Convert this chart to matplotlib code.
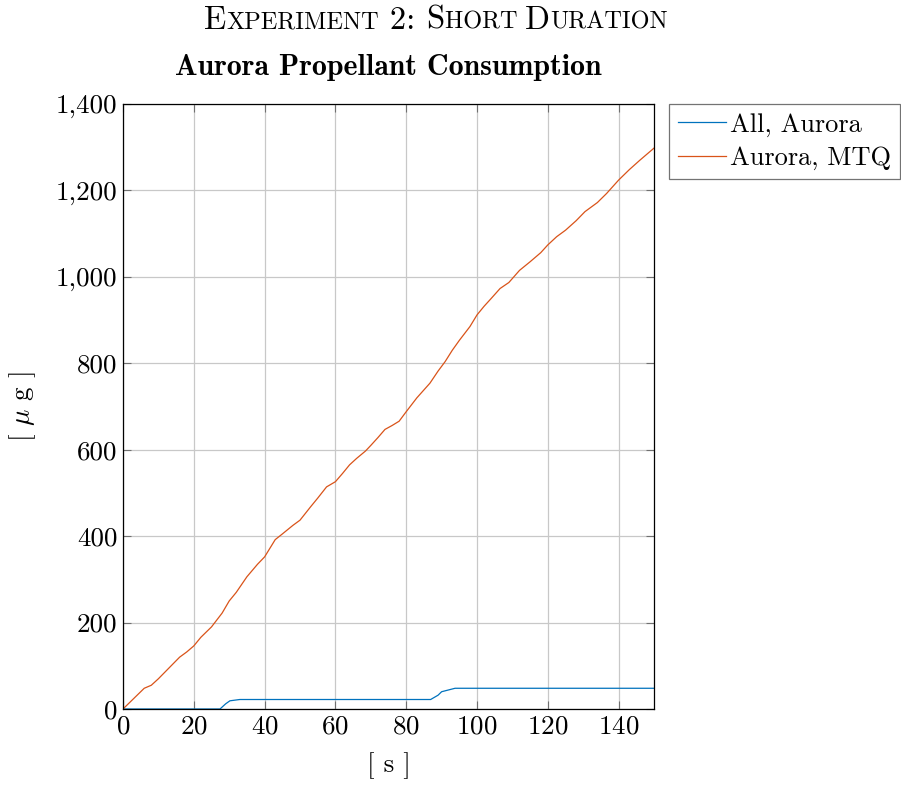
import matplotlib
matplotlib.use("Agg")
import matplotlib.pyplot as plt
from matplotlib.ticker import FuncFormatter, MultipleLocator
from matplotlib.offsetbox import TextArea, HPacker, AnchoredOffsetbox

plt.rcParams["font.family"] = ["cmr10", "DejaVu Serif"]
plt.rcParams["mathtext.fontset"] = "cm"
plt.rcParams["axes.formatter.use_mathtext"] = True
plt.rcParams["axes.unicode_minus"] = False

time_all = [0, 27.4, 29, 30.2, 33, 86.9, 89, 90, 91.9, 93.8, 150]
prop_all = [0, 0, 12, 19, 22, 22, 32, 40, 44, 48, 48]

time_mtq = [0, 3, 6, 8, 10, 13, 16, 18, 20, 22, 25, 28, 30, 32, 35, 38, 40,
            43, 45, 48, 50, 53, 55, 57.5, 60, 62, 64, 66, 68.5, 70, 72, 74,
            76, 78, 80, 83, 86.7, 89, 91, 93, 95, 98, 100, 102, 104, 106.5,
            109, 112, 115, 118, 120, 122.5, 125, 128, 130.5, 132, 134, 136.6,
            140, 143, 146, 150]
prop_mtq = [0, 24, 48, 55, 70, 95, 120, 132, 146, 166, 190, 222, 250, 270,
            306, 335, 352, 392, 405, 425, 437, 468, 488, 514, 526, 545, 565,
            580, 597, 610, 628, 647, 656, 666, 688, 720, 754, 782, 804, 830,
            853, 885, 912, 932, 950, 973, 987, 1015, 1035, 1056, 1074, 1093,
            1108, 1130, 1151, 1160, 1172, 1193, 1224, 1248, 1270, 1298]

fig = plt.figure(figsize=(9.01, 7.85), dpi=100)
ax = fig.add_axes([0.1365, 0.0968, 0.5894, 0.7707])

ax.plot(time_all, prop_all, color="#0072BD", lw=0.9, label="All, Aurora")
ax.plot(time_mtq, prop_mtq, color="#D95319", lw=0.9, label="Aurora, MTQ")

ax.set_xlim(0, 150)
ax.set_ylim(0, 1400)
ax.xaxis.set_major_locator(MultipleLocator(20))
ax.yaxis.set_major_locator(MultipleLocator(200))
ax.yaxis.set_major_formatter(FuncFormatter(lambda v, p: f"{int(v):,}"))
ax.grid(True, color="#c8c8c8", lw=0.9)
ax.tick_params(direction="in", top=True, right=True, length=6,
               color="#707070", labelsize=19.5, pad=4)
for s in ax.spines.values():
    s.set_linewidth(0.9)

ax.set_xlabel("[ s ]", fontsize=19.5, labelpad=10)
ax.set_ylabel(r"[ $\mu$ g ]", fontsize=19.5, labelpad=13)
ax.set_title("Aurora Propellant Consumption", fontsize=21.5,
             fontfamily="cmb10", pad=21)

leg = ax.legend(loc="upper left", bbox_to_anchor=(1.028, 1.0), fontsize=19,
                frameon=True, fancybox=False, edgecolor="#505050",
                handlelength=1.85, handletextpad=0.15, borderpad=0.33,
                labelspacing=0.36, borderaxespad=0)
leg.get_frame().set_linewidth(0.9)

# small caps title
words = [("E", "XPERIMENT"), ("", " 2: "), ("S", "HORT "), ("D", "URATION")]
parts = []
for big, small in words:
    if big:
        parts.append(TextArea(big, textprops=dict(fontsize=23.5, family="cmr10")))
    parts.append(TextArea(small, textprops=dict(fontsize=17.5 if small.strip().isalpha() else 23.5,
                                                family="cmr10")))
pack = HPacker(children=parts, align="baseline", pad=0, sep=0)
anch = AnchoredOffsetbox(loc="upper center", child=pack, frameon=False,
                         bbox_to_anchor=(0.484, 1.0), bbox_transform=fig.transFigure,
                         borderpad=0)
fig.add_artist(anch)

fig.savefig("out.png", dpi=100)
